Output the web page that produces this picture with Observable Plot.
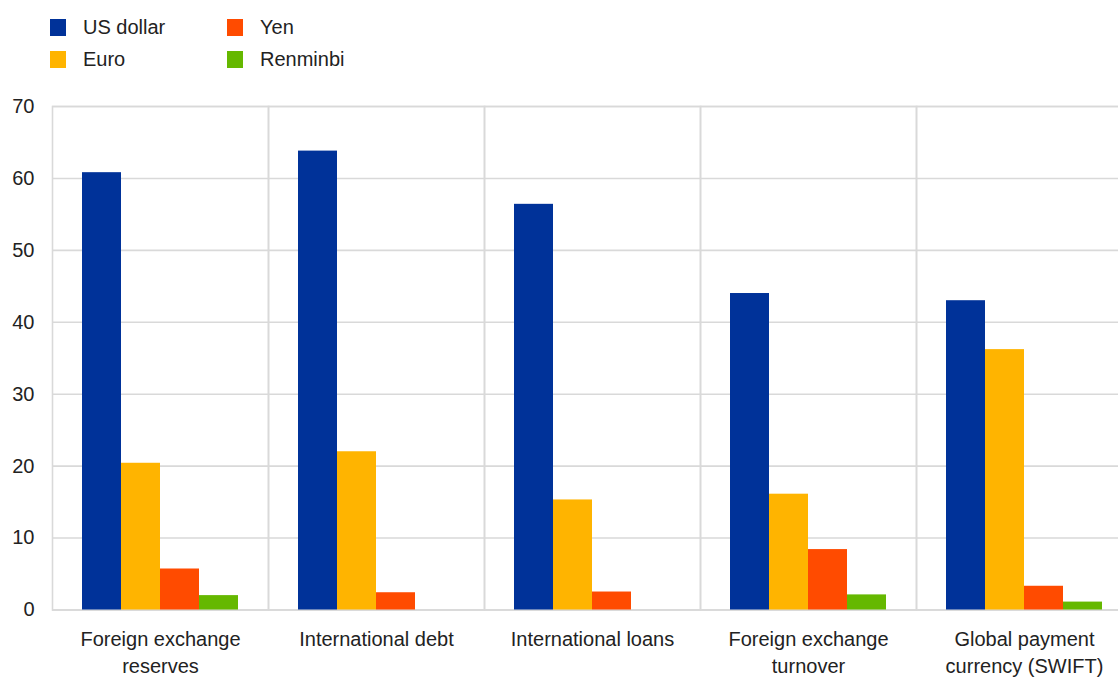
<!DOCTYPE html>
<html>
<head>
<meta charset="utf-8">
<script src="https://cdn.jsdelivr.net/npm/d3@7"></script>
<script src="https://cdn.jsdelivr.net/npm/@observablehq/plot@0.6"></script>
<style>
  html, body { margin: 0; padding: 0; background: #fff; overflow: hidden; width: 1118px; }
  body { font-family: "Liberation Sans", Arial, sans-serif; color: #222; }
  #legend { position: relative; height: 86px; width: 1118px; }
  .item { position: absolute; display: flex; align-items: center; font-size: 20px; line-height: 20px; }
  .sw { width: 16px; height: 17px; margin-right: 17px; }
  #chart { width: 1118px; overflow: hidden; }
  #chart svg { display: block; }
</style>
</head>
<body>
<div id="legend"></div>
<div id="chart"></div>
<script>
const categories = ["Foreign exchange reserves", "International debt", "International loans", "Foreign exchange turnover", "Global payment currency (SWIFT)"];
const tickLabels = ["Foreign exchange\nreserves", "International debt", "International loans", "Foreign exchange\nturnover", "Global payment\ncurrency (SWIFT)"];
const currencies = ["US dollar", "Euro", "Yen", "Renminbi"];
const colors = ["#003299", "#ffb400", "#ff4b00", "#65b800"];
const usDollar = [60.8, 63.8, 56.4, 44.0, 43.0];
const euro = [20.4, 22.0, 15.3, 16.1, 36.2];
const yen = [5.7, 2.4, 2.5, 8.4, 3.3];
const renminbi = [2.0, 0, 0, 2.1, 1.1];
const yTicks = [0, 10, 20, 30, 40, 50, 60, 70];

const series = [usDollar, euro, yen, renminbi];
const data = [];
categories.forEach((c, i) => {
  currencies.forEach((cur, j) => {
    data.push({category: c, currency: cur, value: series[j][i]});
  });
});

// Legend
const legendPos = [
  {x: 50, y: 27}, {x: 50, y: 59}, {x: 227, y: 27}, {x: 227, y: 59}
];
const legend = document.getElementById("legend");
currencies.forEach((cur, j) => {
  const it = document.createElement("div");
  it.className = "item";
  it.style.left = legendPos[j].x + "px";
  it.style.top = (legendPos[j].y - 10) + "px";
  it.innerHTML = `<span class="sw" style="background:${colors[j]}"></span><span>${cur}</span>`;
  legend.appendChild(it);
});

const labelOf = new Map(categories.map((c, i) => [c, tickLabels[i]]));

const chart = Plot.plot({
  width: 1118,
  height: 591,
  marginLeft: 52,
  marginRight: -14,
  marginTop: 20,
  marginBottom: 67.5,
  style: {fontFamily: "'Liberation Sans', Arial, sans-serif", fontSize: "20px", color: "#222", background: "#fff", overflow: "hidden"},
  fx: {domain: categories, padding: 0, label: null, axis: null},
  x: {domain: currencies, paddingInner: 0, paddingOuter: 0.75, axis: null},
  y: {domain: [0, 70], label: null, axis: null},
  color: {domain: currencies, range: colors},
  marks: [
    Plot.gridY(yTicks, {stroke: "#d9d9d9", strokeOpacity: 1, strokeWidth: 1.6}),
    Plot.frame({stroke: "#d9d9d9", strokeWidth: 1.6}),
    Plot.barY(data, {fx: "category", x: "currency", y: "value", fill: "currency"}),
    Plot.axisY(yTicks, {tickSize: 0, tickPadding: 18, fontSize: 20, label: null}),
    Plot.axisFx({anchor: "bottom", tickSize: 0, tickPadding: 17, fontSize: 20, lineHeight: 1.35, label: null, tickFormat: d => labelOf.get(d)})
  ]
});
document.getElementById("chart").appendChild(chart);
</script>
</body>
</html>
